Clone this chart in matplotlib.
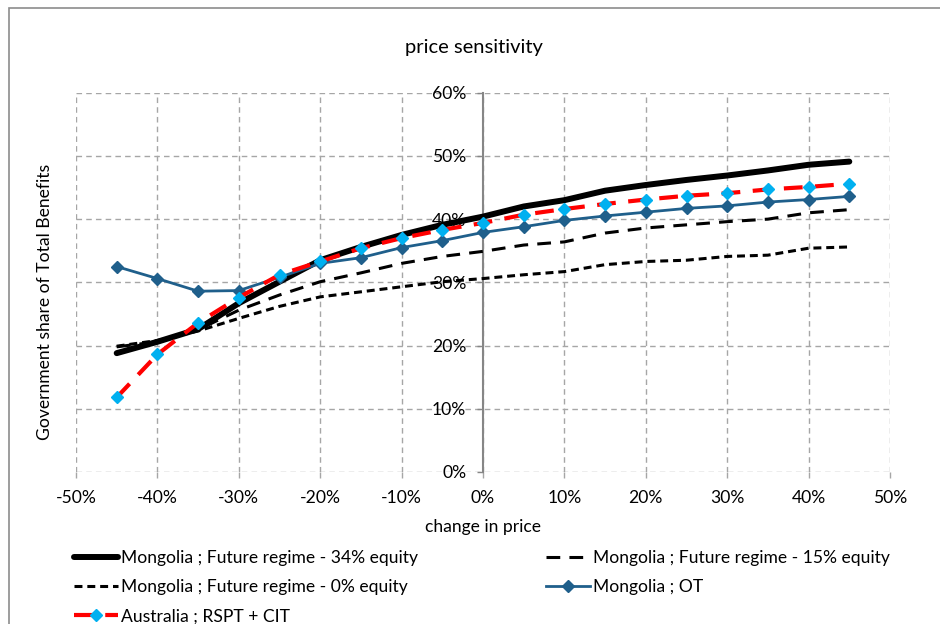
import numpy as np
import matplotlib
matplotlib.use("Agg")
import matplotlib.pyplot as plt
from matplotlib.patches import Rectangle
from matplotlib.ticker import FuncFormatter, MultipleLocator

plt.rcParams['font.family'] = ['Lato', 'DejaVu Sans']

# change in price (%)
price_change = [-45, -40, -35, -30, -25, -20, -15, -10, -5, 0,
                5, 10, 15, 20, 25, 30, 35, 40, 45]

# government share of total benefits (%)
mng_34 = [18.8, 20.6, 22.6, 26.7, 30.1, 33.5, 35.6, 37.5, 39.1, 40.4,
          42.0, 43.0, 44.5, 45.4, 46.2, 46.9, 47.7, 48.6, 49.1]
mng_15 = [19.8, 20.6, 22.5, 25.6, 28.0, 30.1, 31.5, 33.0, 34.1, 34.9,
          35.9, 36.4, 37.8, 38.6, 39.1, 39.6, 40.0, 41.0, 41.5]
mng_0 = [19.9, 20.8, 22.3, 24.3, 26.2, 27.7, 28.5, 29.3, 30.1, 30.6,
         31.2, 31.7, 32.8, 33.3, 33.5, 34.1, 34.3, 35.4, 35.6]
mng_ot = [32.5, 30.6, 28.6, 28.7, 30.8, 33.0, 33.9, 35.5, 36.6, 37.9,
          38.8, 39.8, 40.5, 41.1, 41.7, 42.1, 42.7, 43.1, 43.6]
aus_rspt = [11.8, 18.6, 23.6, 27.6, 31.2, 33.3, 35.4, 37.0, 38.3, 39.4,
            40.7, 41.6, 42.4, 43.1, 43.7, 44.1, 44.7, 45.1, 45.6]

labels = ["Mongolia ; Future regime - 34% equity",
          "Mongolia ; Future regime - 15% equity",
          "Mongolia ; Future regime - 0% equity",
          "Mongolia ; OT",
          "Australia ; RSPT + CIT"]

FS = 12.6

fig = plt.figure(figsize=(9.4, 6.24), dpi=100)
ax = fig.add_axes([76/940, 1-472/624, 814/940, 379.3/624])

x = np.array(price_change) / 100
l34, = ax.plot(x, np.array(mng_34)/100, color='black', lw=4.3,
               solid_capstyle='round', zorder=3)
l15, = ax.plot(x, np.array(mng_15)/100, color='black', lw=2.2,
               dashes=(4.5, 3), zorder=3)
l0, = ax.plot(x, np.array(mng_0)/100, color='black', lw=2.2,
              dashes=(2.6, 1.6), zorder=3)
lot, = ax.plot(x, np.array(mng_ot)/100, color='#1F5F8B', lw=2,
               marker='D', markersize=6.5, markerfacecolor='#1F5F8B',
               markeredgecolor='#1F5F8B', zorder=4)
laus, = ax.plot(x, np.array(aus_rspt)/100, color='#FF0000', lw=3,
                dashes=(4.5, 3), marker='D', markersize=6.5,
                markerfacecolor='#00B0F0', markeredgecolor='#00B0F0', zorder=5)

ax.set_xlim(-0.5, 0.5)
ax.set_ylim(0, 0.6)
ax.xaxis.set_major_locator(MultipleLocator(0.1))
ax.yaxis.set_major_locator(MultipleLocator(0.1))
pct = FuncFormatter(lambda v, p: f"{v*100:.0f}%")
ax.xaxis.set_major_formatter(pct)
ax.yaxis.set_major_formatter(pct)

ax.grid(True, color='#A6A6A6', lw=1, ls=(0, (4, 3)))
ax.set_axisbelow(True)
for s in ['top', 'right', 'bottom']:
    ax.spines[s].set_visible(False)
ax.spines['left'].set_position(('data', 0))
ax.spines['left'].set_color('#868686')
ax.spines['left'].set_linewidth(1.5)
ax.tick_params(axis='y', colors='#868686', length=4, width=1, pad=8,
               labelcolor='black', labelsize=FS)
ax.tick_params(axis='x', colors='#A6A6A6', length=4, width=1, pad=9,
               labelcolor='black', labelsize=FS)

ax.set_xlabel("change in price", fontsize=FS, labelpad=9)
fig.text(45/940, 1-302/624, "Government share of Total Benefits",
         rotation=90, ha='center', va='center', fontsize=FS)
fig.text(474/940, 1-48/624, "price sensitivity", ha='center', va='center',
         fontsize=14.5)

# chart border
fig.patches.append(Rectangle((9/940, -0.1), 1.2, 1 + 0.1 - 8/624,
                             transform=fig.transFigure, fill=False,
                             edgecolor='#8C8C8C', lw=1.2))

fig.legend([l34, l0, laus, l15, lot],
           [labels[0], labels[2], labels[4], labels[1], labels[3]],
           ncol=2, loc='upper left', bbox_to_anchor=(74/940, 1-550/624),
           frameon=False, fontsize=FS, handlelength=2.5, handletextpad=0.2,
           columnspacing=7.3, labelspacing=0.76, borderaxespad=0,
           borderpad=0)

fig.savefig("out.png", dpi=100)
